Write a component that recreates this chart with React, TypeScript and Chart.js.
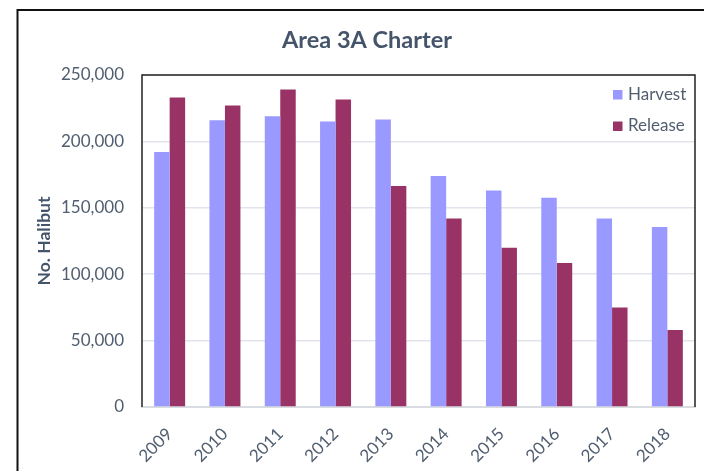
import React, { useEffect, useRef } from "react";
import { Chart, registerables } from "chart.js";

Chart.register(...registerables);

const years = ["2009", "2010", "2011", "2012", "2013", "2014", "2015", "2016", "2017", "2018"];
const harvest = [192000, 216000, 219000, 215000, 216500, 174000, 163000, 157500, 142000, 135500];
const release = [233000, 227000, 239000, 231500, 166500, 142000, 120000, 108500, 75000, 58000];
const yTicks = [0, 50000, 100000, 150000, 200000, 250000];
const chartTitle = "Area 3A Charter";
const yAxisTitle = "No. Halibut";
const seriesNames = ["Harvest", "Release"];

const FONT = "Lato";
const TEXT = "#44546A";
const TICK = "#515e70";

const framePlugin = {
  id: "frame",
  afterDraw(chart: any) {
    const ctx = chart.ctx;
    const a = chart.chartArea;
    ctx.save();
    // outer chart border (left & top)
    ctx.strokeStyle = "#111";
    ctx.lineWidth = 2;
    ctx.beginPath();
    ctx.moveTo(17.5, chart.height);
    ctx.lineTo(17.5, 10);
    ctx.lineTo(chart.width, 10);
    ctx.stroke();
    // plot area border (left, top, right)
    ctx.lineWidth = 1.5;
    ctx.strokeStyle = "#222";
    ctx.beginPath();
    ctx.moveTo(a.left, a.bottom);
    ctx.lineTo(a.left, a.top);
    ctx.lineTo(a.right, a.top);
    ctx.lineTo(a.right, a.bottom);
    ctx.stroke();
    // title
    ctx.fillStyle = TEXT;
    ctx.font = `bold 23.5px ${FONT}`;
    ctx.textAlign = "center";
    ctx.textBaseline = "middle";
    ctx.fillText(chartTitle, 367, 40);
    // legend
    ctx.font = `17px ${FONT}`;
    ctx.textAlign = "left";
    chart.data.datasets.forEach((ds: any, i: number) => {
      const cy = 94.5 + i * 31.5;
      ctx.fillStyle = ds.backgroundColor;
      ctx.fillRect(613, cy - 4.5, 9.5, 9.5);
      ctx.fillStyle = TICK;
      ctx.fillText(ds.label, 628, cy);
    });
    ctx.restore();
  },
};

export default function App() {
  const ref = useRef<HTMLCanvasElement>(null);
  useEffect(() => {
    if (!ref.current) return;
    const chart = new Chart(ref.current, {
      type: "bar",
      data: {
        labels: years,
        datasets: [
          {
            label: seriesNames[0],
            data: harvest,
            backgroundColor: "#9999FF",
            borderWidth: 0,
          },
          {
            label: seriesNames[1],
            data: release,
            backgroundColor: "#993366",
            borderWidth: 0,
          },
        ],
      },
      options: {
        responsive: false,
        animation: false,
        devicePixelRatio: 1,
        layout: { padding: { top: 75, right: 9, left: 0, bottom: 0 } },
        datasets: { bar: { categoryPercentage: 0.56, barPercentage: 1 } },
        plugins: {
          legend: { display: false },
          title: { display: false },
          tooltip: { enabled: false },
        },
        scales: {
          x: {
            grid: { display: false, drawTicks: false },
            border: { display: true, color: "#d9dce1", width: 2 },
            ticks: {
              color: TICK,
              font: { family: FONT, size: 17 },
              minRotation: 45,
              maxRotation: 45,
              padding: 17,
            },
            afterFit(scale: any) {
              scale.height = 64;
            },
          },
          y: {
            min: 0,
            max: 250000,
            afterBuildTicks(scale: any) {
              scale.ticks = yTicks.map((v) => ({ value: v }));
            },
            grid: { color: "#e1e5eb", lineWidth: 1.5, drawTicks: false },
            border: { display: false },
            ticks: {
              color: TICK,
              font: { family: FONT, size: 17 },
              padding: 18,
              callback: (v: any) => Number(v).toLocaleString("en-US"),
            },
            title: {
              display: true,
              text: yAxisTitle,
              color: TEXT,
              font: { family: FONT, size: 17.5, weight: "bold" },
              padding: { top: 34, bottom: 0 },
            },
            afterFit(scale: any) {
              scale.width = 142;
            },
          },
        },
      },
      plugins: [framePlugin],
    });
    return () => chart.destroy();
  }, []);
  return (
    <div style={{ position: "fixed", left: 0, top: 0, width: 704, height: 471, background: "#fff" }}>
      <canvas ref={ref} width={704} height={471} style={{ display: "block" }} />
    </div>
  );
}
